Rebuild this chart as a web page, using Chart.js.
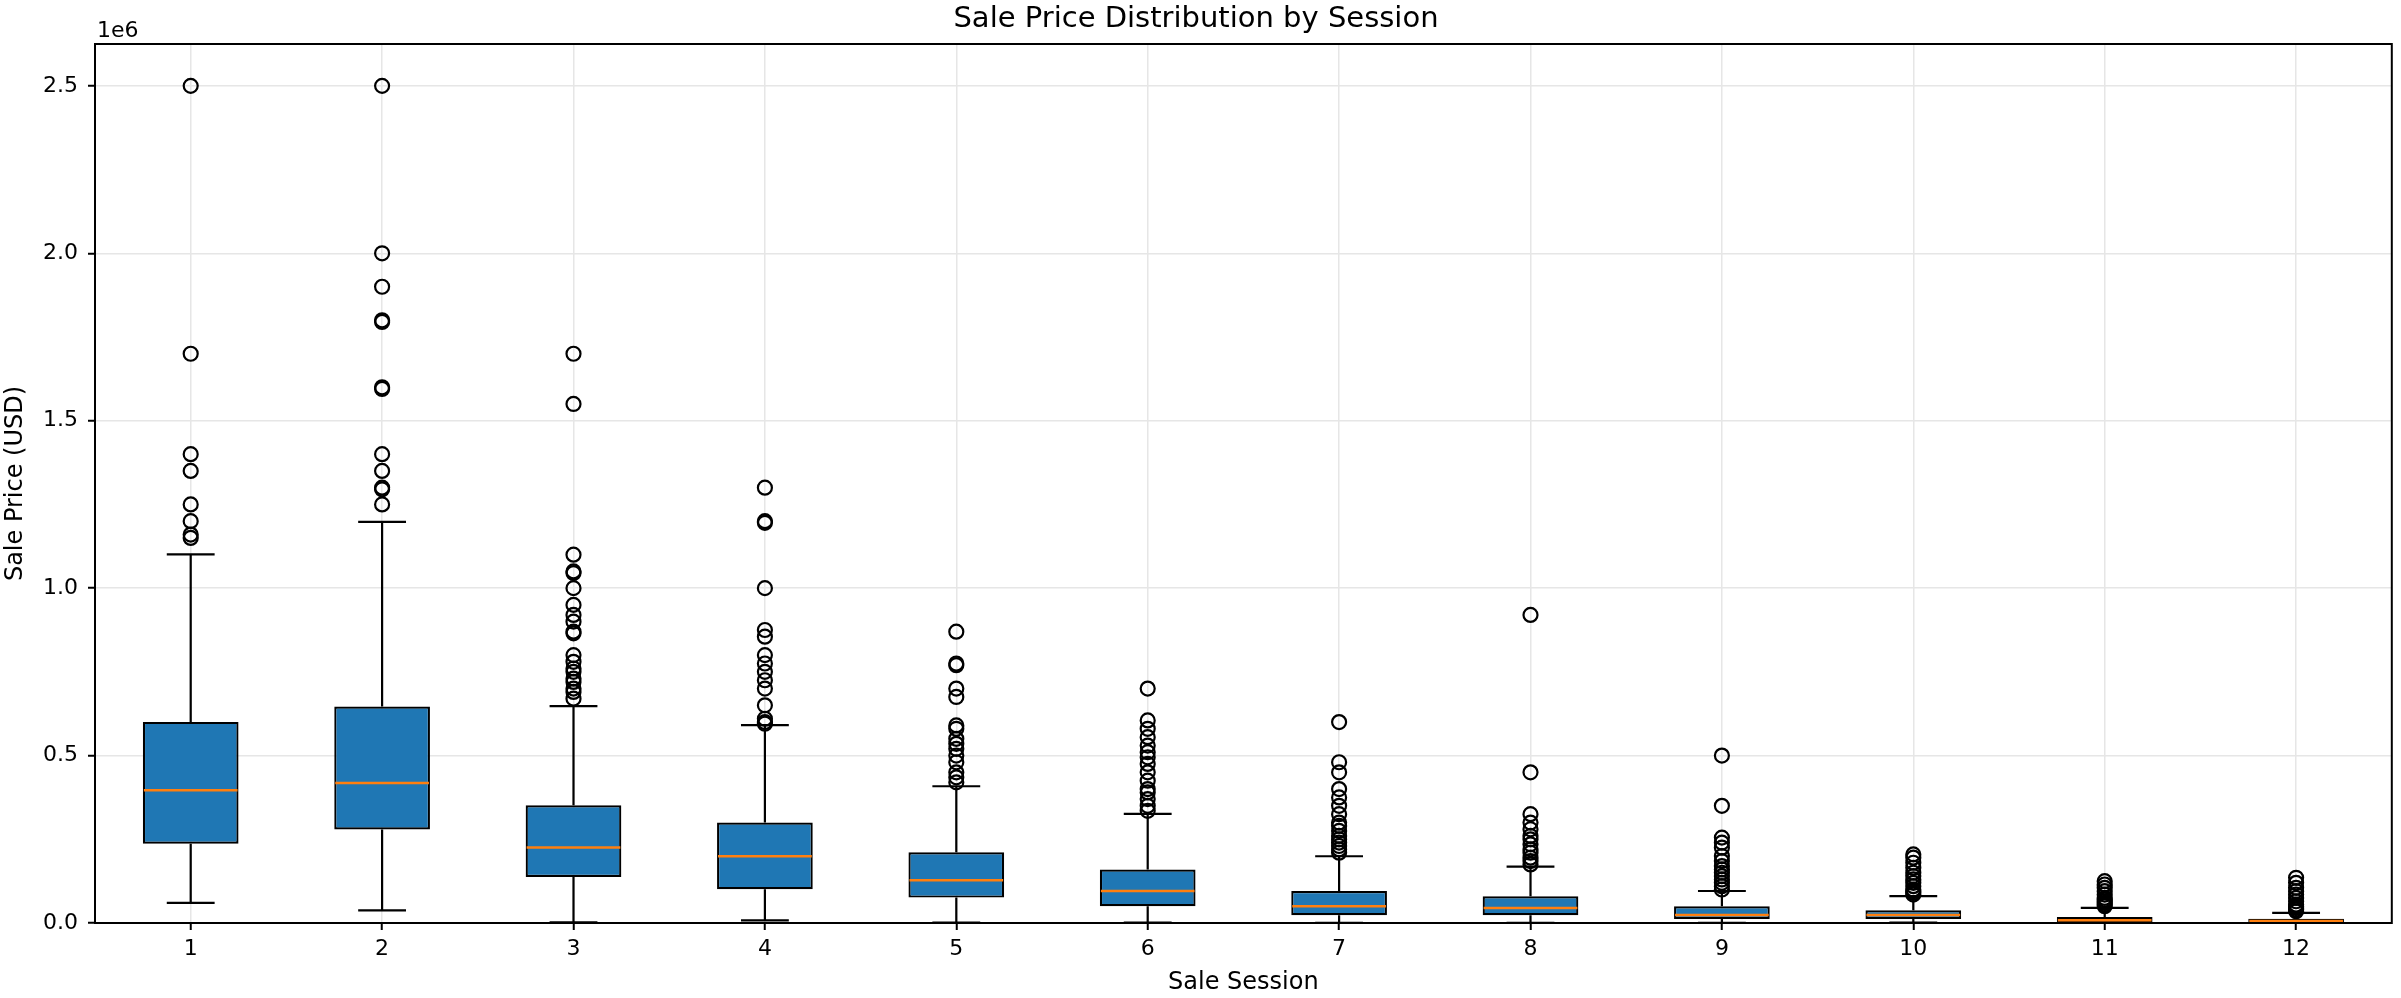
<!DOCTYPE html>
<html>
<head>
<meta charset="utf-8">
<script src="https://cdn.jsdelivr.net/npm/chart.js@4.4.0/dist/chart.umd.min.js"></script>
<style>
  html, body { margin: 0; padding: 0; background: #fff; }
  #wrap { width: 2401px; height: 998px; }
</style>
</head>
<body>
<div id="wrap"><canvas id="boxChart"></canvas></div>
<script>
// box plot stats per sale session, USD
const sessions = ['1', '2', '3', '4', '5', '6', '7', '8', '9', '10', '11', '12'];
const whiskerLow = [60000, 38000, 2000, 8000, 1000, 1000, 500, 500, 500, 1000, 0, 0];
const q1 = [237000, 279000, 137500, 100700, 75800, 50000, 23000, 23000, 12000, 12000, 1000, 1000];
const median = [396500, 418300, 225300, 199300, 127600, 95600, 50000, 45000, 24000, 24000, 8000, 6000];
const q3 = [600600, 646500, 351700, 300000, 211200, 159500, 95600, 79800, 50000, 38000, 18000, 13000];
const whiskerHigh = [1100700, 1198000, 647400, 590700, 408400, 325700, 199300, 168500, 95600, 80000, 45000, 30000];
const outliers = [
    [2500000, 1700000, 1400000, 1350000, 1250000, 1200000, 1160000, 1150000],
    [2500000, 2000000, 1900000, 1800000, 1795000, 1600000, 1595000, 1400000, 1350000, 1300000, 1295000, 1250000],
    [1700000, 1550000, 1100000, 1050000, 1045000, 1000000, 950000, 920000, 900000, 870000, 865000, 800000, 780000, 760000, 750000, 730000, 720000, 700000, 690000, 670000],
    [1300000, 1200000, 1195000, 1000000, 875000, 855000, 800000, 775000, 750000, 725000, 700000, 650000, 610000, 600000, 595000],
    [870000, 775000, 770000, 700000, 675000, 590000, 580000, 550000, 535000, 520000, 500000, 480000, 450000, 435000, 420000],
    [700000, 605000, 580000, 555000, 530000, 510000, 495000, 475000, 450000, 425000, 400000, 390000, 370000, 350000, 335000],
    [600000, 480000, 450000, 400000, 375000, 350000, 325000, 300000, 290000, 275000, 260000, 250000, 240000, 230000, 220000, 210000],
    [920000, 450000, 325000, 300000, 280000, 260000, 250000, 235000, 220000, 210000, 195000, 185000, 175000],
    [500000, 350000, 255000, 240000, 225000, 200000, 185000, 170000, 160000, 150000, 140000, 130000, 120000, 110000, 100000],
    [205000, 195000, 180000, 165000, 150000, 140000, 130000, 120000, 110000, 100000, 95000, 90000, 85000],
    [125000, 115000, 105000, 95000, 85000, 75000, 70000, 65000, 60000, 55000, 50000],
    [135000, 120000, 105000, 95000, 85000, 75000, 65000, 55000, 50000, 45000, 40000, 35000]
];
const yTicks = [0, 500000, 1000000, 1500000, 2000000, 2500000];
const yMax = 2625000;

(function() {
    const ctx = document.getElementById('boxChart');
    if (!ctx) return;

    const FONT = "'DejaVu Sans', sans-serif";
    const boxBlue = '#1f77b4';
    const medianOrange = '#ff7f0e';
    const gridGrey = '#e6e6e6';

    const boxData = sessions.map((s, i) => [q1[i], q3[i]]);
    const flierData = [];
    outliers.forEach((list, i) => {
        list.forEach(v => flierData.push({ x: sessions[i], y: v }));
    });

    // whiskers, caps, medians, frame and the 1e6 offset label
    const boxExtras = {
        id: 'boxExtras',
        beforeDatasetsDraw(chart) {
            const meta = chart.getDatasetMeta(0);
            const y = chart.scales.y;
            const c = chart.ctx;
            c.save();
            c.strokeStyle = '#000';
            c.lineWidth = 2.2;
            meta.data.forEach((bar, i) => {
                const cap = bar.width / 4;
                const yLo = y.getPixelForValue(whiskerLow[i]);
                const yHi = y.getPixelForValue(whiskerHigh[i]);
                const yQ1 = y.getPixelForValue(q1[i]);
                const yQ3 = y.getPixelForValue(q3[i]);
                c.beginPath();
                c.moveTo(bar.x, yQ3); c.lineTo(bar.x, yHi);
                c.moveTo(bar.x, yQ1); c.lineTo(bar.x, yLo);
                c.moveTo(bar.x - cap, yHi); c.lineTo(bar.x + cap, yHi);
                c.moveTo(bar.x - cap, yLo); c.lineTo(bar.x + cap, yLo);
                c.stroke();
            });
            c.restore();
        },
        afterDatasetsDraw(chart) {
            const meta = chart.getDatasetMeta(0);
            const y = chart.scales.y;
            const c = chart.ctx;
            c.save();
            c.strokeStyle = medianOrange;
            c.lineWidth = 2.4;
            meta.data.forEach((bar, i) => {
                const half = bar.width / 2 - 1;
                const ym = y.getPixelForValue(median[i]);
                c.beginPath();
                c.moveTo(bar.x - half, ym); c.lineTo(bar.x + half, ym);
                c.stroke();
            });
            c.restore();
        },
        afterDraw(chart) {
            const a = chart.chartArea;
            const c = chart.ctx;
            c.save();
            c.strokeStyle = '#000';
            c.lineWidth = 2;
            c.strokeRect(a.left, a.top, a.right - a.left, a.bottom - a.top);
            c.fillStyle = '#000';
            c.font = '22px ' + FONT;
            c.textAlign = 'left';
            c.textBaseline = 'alphabetic';
            c.fillText('1e6', a.left + 2, a.top - 7);
            c.restore();
        }
    };

    new Chart(ctx, {
        type: 'bar',
        data: {
            labels: sessions,
            datasets: [{
                type: 'bar',
                data: boxData,
                backgroundColor: boxBlue,
                borderColor: '#000',
                borderWidth: 2.2,
                borderSkipped: false,
                barPercentage: 0.5,
                categoryPercentage: 1.0,
                order: 1
            }, {
                type: 'scatter',
                data: flierData,
                pointStyle: 'circle',
                pointRadius: 7,
                pointBorderWidth: 2.2,
                pointBackgroundColor: 'rgba(0,0,0,0)',
                pointBorderColor: '#000',
                order: 0
            }]
        },
        options: {
            responsive: true,
            maintainAspectRatio: false,
            animation: false,
            events: [],
            layout: { padding: { left: 0, right: 9, top: 0, bottom: 0 } },
            scales: {
                x: {
                    type: 'category',
                    offset: true,
                    grid: {
                        offset: false,
                        color: gridGrey,
                        lineWidth: 1.5,
                        tickLength: 7,
                        tickColor: '#000',
                        tickWidth: 2
                    },
                    border: { display: false },
                    ticks: { color: '#000', font: { family: FONT, size: 22 }, padding: 6 },
                    title: {
                        display: true,
                        text: 'Sale Session',
                        color: '#000',
                        font: { family: FONT, size: 24 },
                        padding: { top: 0, bottom: 1 }
                    },
                    afterFit(scale) { scale.height = 75; }
                },
                y: {
                    min: 0,
                    max: yMax,
                    grid: {
                        color: gridGrey,
                        lineWidth: 1.5,
                        tickLength: 7,
                        tickColor: '#000',
                        tickWidth: 2
                    },
                    border: { display: false },
                    ticks: {
                        color: '#000',
                        font: { family: FONT, size: 22 },
                        padding: 10,
                        callback: v => (v / 1e6).toFixed(1)
                    },
                    afterBuildTicks(scale) {
                        scale.ticks = yTicks.map(v => ({ value: v }));
                    },
                    title: {
                        display: true,
                        text: 'Sale Price (USD)',
                        color: '#000',
                        font: { family: FONT, size: 24 },
                        padding: { top: 1, bottom: 0 }
                    },
                    afterFit(scale) { scale.width = 95; }
                }
            },
            plugins: {
                legend: { display: false },
                tooltip: { enabled: false },
                title: {
                    display: true,
                    text: 'Sale Price Distribution by Session',
                    color: '#000',
                    font: { family: FONT, size: 29, weight: 'normal' },
                    padding: { top: 2, bottom: 7.2 }
                }
            }
        },
        plugins: [boxExtras]
    });
})();
</script>
</body>
</html>
